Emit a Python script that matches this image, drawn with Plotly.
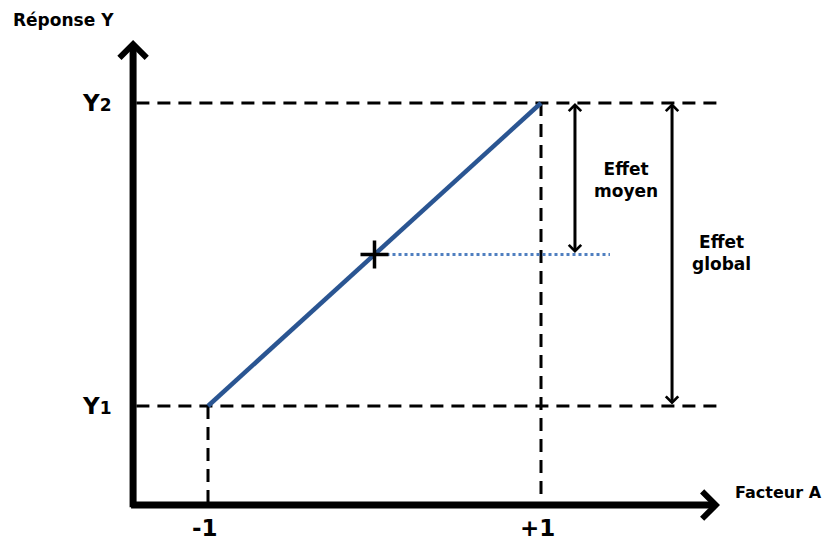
import plotly.graph_objects as go

# factor levels (coded) and responses
x_levels = [-1, 1]
x_labels = ["-1", "+1"]
y_levels = [1.0, 2.0]          # Y1, Y2
y_labels = ["Y<span style='font-size:17px'>1</span>", "Y<span style='font-size:17px'>2</span>"]

x_mid = sum(x_levels) / 2
y_mid = sum(y_levels) / 2

# drawing frame (data units)
x0_axis, x_end = -1.45, 2.075
y0_axis, y_end = 0.673, 2.208
x_dash_end = 2.087
x_dot_end = 1.414
x_arrow_mean, x_arrow_global = 1.204, 1.787

FONT = "DejaVu Sans"

fig = go.Figure()

# dashed guide lines
dash = dict(color="black", width=3, dash="13px,8px")
for yv in y_levels:
    fig.add_trace(go.Scatter(x=[x0_axis + 0.02, x_dash_end], y=[yv, yv], mode="lines", line=dash))
fig.add_trace(go.Scatter(x=[x_levels[0], x_levels[0]], y=[y_levels[0], y0_axis], mode="lines", line=dash))
fig.add_trace(go.Scatter(x=[x_levels[1], x_levels[1]], y=[y_levels[1], y0_axis], mode="lines", line=dash))

# dotted line from centre point
fig.add_trace(go.Scatter(x=[x_mid, x_dot_end], y=[y_mid, y_mid], mode="lines",
                         line=dict(color="#4f7fc0", width=3, dash="3px,3px")))

# response line
fig.add_trace(go.Scatter(x=x_levels, y=y_levels, mode="lines",
                         line=dict(color="#2a5592", width=4.5)))

# centre marker
fig.add_trace(go.Scatter(x=[x_mid], y=[y_mid], mode="markers",
                         marker=dict(symbol="cross-thin", size=20, line=dict(color="black", width=3.5))))

anns = []
# axes arrows
anns.append(dict(x=x0_axis, y=y_end, ax=x0_axis, ay=y0_axis - 0.012, xref="x", yref="y", axref="x", ayref="y",
                 showarrow=True, arrowhead=4, arrowsize=0.75, arrowwidth=7, arrowcolor="black", text=""))
anns.append(dict(x=x_end, y=y0_axis, ax=x0_axis - 0.021, ay=y0_axis, xref="x", yref="y", axref="x", ayref="y",
                 showarrow=True, arrowhead=4, arrowsize=0.75, arrowwidth=7, arrowcolor="black", text=""))
# effect arrows
for xa, ylo in [(x_arrow_mean, y_mid), (x_arrow_global, y_levels[0])]:
    anns.append(dict(x=xa, y=y_levels[1], ax=xa, ay=ylo, xref="x", yref="y", axref="x", ayref="y",
                     showarrow=True, arrowhead=4, startarrowhead=4, arrowside="end+start",
                     arrowsize=0.8, startarrowsize=0.8, arrowwidth=3, arrowcolor="black", text=""))

small = dict(family=FONT, size=17, color="black")
big = dict(family=FONT, size=23, color="black")
txt = dict(showarrow=False, xref="x", yref="y", font=small)
anns.append(dict(txt, x=-1.868, y=2.274, text="<b>Réponse Y</b>"))
anns.append(dict(txt, x=2.426, y=0.713, text="<b>Facteur A</b>", font=dict(family=FONT, size=16, color="black")))
anns.append(dict(txt, x=1.511, y=1.746, text="<b>Effet<br>moyen</b>"))
anns.append(dict(txt, x=2.087, y=1.505, text="<b>Effet<br>global</b>"))
for yv, lab in zip(y_levels, y_labels):
    anns.append(dict(txt, x=-1.667, y=yv, text="<b>" + lab + "</b>", font=big))
for xv, lab in zip(x_levels, x_labels):
    anns.append(dict(txt, x=xv - 0.02, y=0.598, text="<b>" + lab + "</b>", font=big))

# page body has an 8px margin, so the figure is 8px smaller and ranges shifted
fig.update_layout(
    width=823, height=534,
    margin=dict(l=0, r=0, t=0, b=0),
    paper_bgcolor="white", plot_bgcolor="white",
    showlegend=False,
    xaxis=dict(range=[-2.2012, 2.7417], visible=False, fixedrange=True),
    yaxis=dict(range=[0.5512, 2.3135], visible=False, fixedrange=True),
    annotations=anns,
    hovermode=False,
)

fig.write_html("out.html")
